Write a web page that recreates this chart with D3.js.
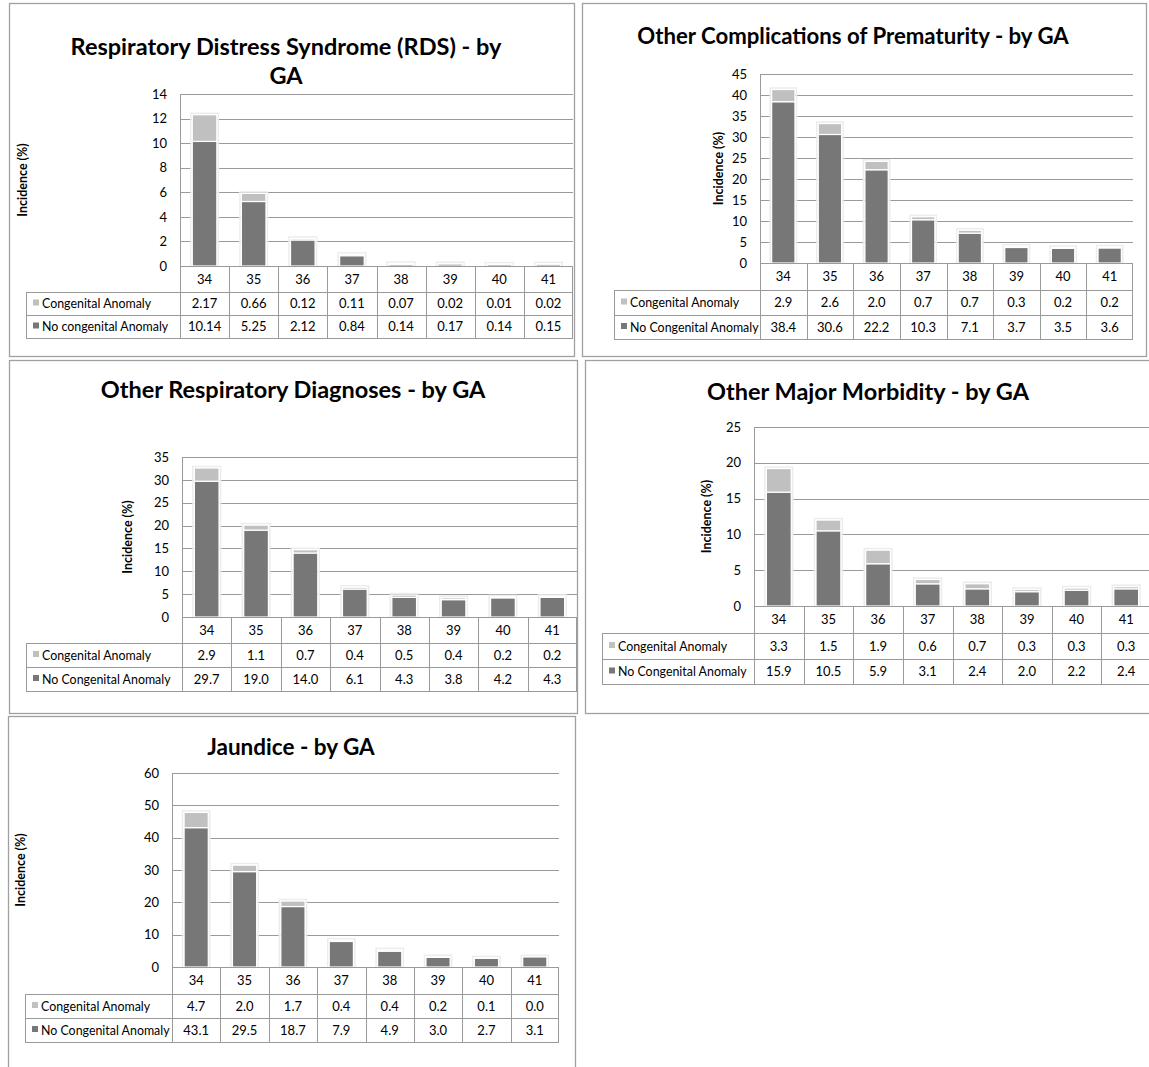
<!DOCTYPE html>
<html>
<head>
<meta charset="utf-8">
<script src="https://cdn.jsdelivr.net/npm/d3@7/dist/d3.min.js"></script>
<style>
  html, body { margin: 0; padding: 0; background: #fff; }
  svg { display: block; font-family: Lato, "Open Sans", sans-serif; }
</style>
</head>
<body>
<svg id="chart" width="1149" height="1067"></svg>
<script>
// Gestational age (weeks) shared by every panel
const gaWeeks = ["34", "35", "36", "37", "38", "39", "40", "41"];

// Series labels
const seriesCongenital = "Congenital Anomaly";
const seriesNoCongenital = "No Congenital Anomaly";
const seriesNoCongenitalLower = "No congenital Anomaly";

// Respiratory Distress Syndrome (RDS)
const rdsCongenital   = [2.17, 0.66, 0.12, 0.11, 0.07, 0.02, 0.01, 0.02];
const rdsNoCongenital = [10.14, 5.25, 2.12, 0.84, 0.14, 0.17, 0.14, 0.15];
const rdsTicks = [0, 2, 4, 6, 8, 10, 12, 14];

// Other complications of prematurity
const ocpCongenital   = [2.9, 2.6, 2.0, 0.7, 0.7, 0.3, 0.2, 0.2];
const ocpNoCongenital = [38.4, 30.6, 22.2, 10.3, 7.1, 3.7, 3.5, 3.6];
const ocpTicks = [0, 5, 10, 15, 20, 25, 30, 35, 40, 45];

// Other respiratory diagnoses
const ordCongenital   = [2.9, 1.1, 0.7, 0.4, 0.5, 0.4, 0.2, 0.2];
const ordNoCongenital = [29.7, 19.0, 14.0, 6.1, 4.3, 3.8, 4.2, 4.3];
const ordTicks = [0, 5, 10, 15, 20, 25, 30, 35];

// Other major morbidity
const ommCongenital   = [3.3, 1.5, 1.9, 0.6, 0.7, 0.3, 0.3, 0.3];
const ommNoCongenital = [15.9, 10.5, 5.9, 3.1, 2.4, 2.0, 2.2, 2.4];
const ommTicks = [0, 5, 10, 15, 20, 25];

// Jaundice
const jauCongenital   = [4.7, 2.0, 1.7, 0.4, 0.4, 0.2, 0.1, 0.0];
const jauNoCongenital = [43.1, 29.5, 18.7, 7.9, 4.9, 3.0, 2.7, 3.1];
const jauTicks = [0, 10, 20, 30, 40, 50, 60];

const COLOR_LIGHT = "#c0c0c0";
const COLOR_DARK = "#777777";
const LINE = "#9a9a9a";
const TABLE_FONT = 12.4;

const svg = d3.select("#chart");

// Panel definitions: frame box, title, plot box, table geometry
const panels = [
  {
    frame: [9, 3, 574, 356],
    title: ["Respiratory Distress Syndrome (RDS) - by", "GA"], titleX: 286, titleY: 55, titleGap: 29, titleSize: 23.5,
    plot: [180, 573, 94, 266], ticks: rdsTicks,
    rows: [292, 315, 338], tableLeft: 26, yTitleX: 22,
    cong: rdsCongenital, noCong: rdsNoCongenital, fmt: ".2f", noLabel: seriesNoCongenitalLower
  },
  {
    frame: [582, 3, 1146, 356],
    title: ["Other Complications of Prematurity - by GA"], titleX: 853, titleY: 44, titleSize: 22.2,
    plot: [760, 1133, 74, 263], ticks: ocpTicks,
    rows: [290, 315, 339], tableLeft: 614, yTitleX: 718,
    cong: ocpCongenital, noCong: ocpNoCongenital, fmt: ".1f", noLabel: seriesNoCongenital
  },
  {
    frame: [9, 360, 577, 713],
    title: ["Other Respiratory Diagnoses - by GA"], titleX: 293, titleY: 398, titleSize: 23.5,
    plot: [182, 577, 457, 617], ticks: ordTicks,
    rows: [643, 667, 691], tableLeft: 26, yTitleX: 127,
    cong: ordCongenital, noCong: ordNoCongenital, fmt: ".1f", noLabel: seriesNoCongenital
  },
  {
    frame: [585, 360, 1160, 713],
    title: ["Other Major Morbidity - by GA"], titleX: 868, titleY: 400, titleSize: 23.5,
    plot: [754, 1151, 427, 606], ticks: ommTicks,
    rows: [633, 659, 684], tableLeft: 602, yTitleX: 706,
    cong: ommCongenital, noCong: ommNoCongenital, fmt: ".1f", noLabel: seriesNoCongenital
  },
  {
    frame: [8, 716, 575, 1080],
    title: ["Jaundice - by GA"], titleX: 291, titleY: 755, titleSize: 22.5,
    plot: [172, 559, 773, 967], ticks: jauTicks,
    rows: [994, 1018, 1042], tableLeft: 25, yTitleX: 20,
    cong: jauCongenital, noCong: jauNoCongenital, fmt: ".1f", noLabel: seriesNoCongenital
  }
];

panels.forEach(drawPanel);

function drawPanel(p) {
  const g = svg.append("g");
  const [fx0, fy0, fx1, fy1] = p.frame;
  const [px0, px1, py0, py1] = p.plot;

  // Outer chart frame
  g.append("rect")
    .attr("x", fx0 + 0.5).attr("y", fy0 + 0.5)
    .attr("width", fx1 - fx0).attr("height", fy1 - fy0)
    .attr("fill", "none").attr("stroke", "#a0a0a0").attr("stroke-width", 1.3);

  // Title (one or two lines)
  const title = g.append("text")
    .attr("x", p.titleX).attr("y", p.titleY)
    .attr("text-anchor", "middle")
    .attr("font-size", p.titleSize).attr("font-weight", 700).attr("fill", "#000");
  p.title.forEach((line, i) => {
    title.append("tspan").attr("x", p.titleX).attr("dy", i === 0 ? 0 : p.titleGap).text(line);
  });

  const maxTick = d3.max(p.ticks);
  const y = d3.scaleLinear().domain([0, maxTick]).range([py1, py0]);
  const x = d3.scaleBand().domain(gaWeeks).range([px0, px1])
    .paddingInner(0.5).paddingOuter(0.25);
  const step = x.step();
  const colLeft = d => x(d) - step * 0.25;

  // Horizontal gridlines
  g.append("g").selectAll("line").data(p.ticks.filter(t => t > 0)).join("line")
    .attr("x1", px0).attr("x2", px1)
    .attr("y1", d => Math.round(y(d)) + 0.5).attr("y2", d => Math.round(y(d)) + 0.5)
    .attr("stroke", LINE).attr("stroke-width", 1);

  // Value axis labels
  const axis = g.append("g").attr("transform", `translate(${px0},0)`)
    .call(d3.axisLeft(y).tickValues(p.ticks).tickSize(0).tickPadding(13).tickFormat(d3.format("d")));
  axis.select(".domain").remove();
  axis.selectAll("text").attr("font-size", 13).attr("fill", "#000")
    .attr("font-family", "Lato, sans-serif");

  // Left axis line
  g.append("line")
    .attr("x1", px0 + 0.5).attr("x2", px0 + 0.5).attr("y1", py0).attr("y2", py1)
    .attr("stroke", LINE);

  // Axis title
  g.append("text")
    .attr("transform", `translate(${p.yTitleX + 4.5},${(py0 + py1) / 2}) rotate(-90)`)
    .attr("text-anchor", "middle")
    .attr("font-size", 12.5).attr("font-weight", 700).attr("fill", "#000")
    .text("Incidence (%)");

  // Stacked bars: no-anomaly at the base, anomaly on top
  const stackData = gaWeeks.map((w, i) => ({ week: w, noCong: p.noCong[i], cong: p.cong[i] }));
  const stack = d3.stack().keys(["noCong", "cong"])(stackData);
  const colors = { noCong: COLOR_DARK, cong: COLOR_LIGHT };

  // soft halo behind each bar stack
  g.append("g").selectAll("rect").data(stackData).join("rect")
    .attr("x", d => x(d.week) - 1.5)
    .attr("y", d => y(d.noCong + d.cong) - 1.5)
    .attr("width", x.bandwidth() + 3)
    .attr("height", d => y(0) - y(d.noCong + d.cong) + 1.5)
    .attr("fill", "none").attr("stroke", "#ececec").attr("stroke-width", 1.5);

  stack.forEach(layer => {
    g.append("g").selectAll("rect").data(layer).join("rect")
      .attr("x", d => x(d.data.week))
      .attr("y", d => y(d[1]))
      .attr("width", x.bandwidth())
      .attr("height", d => Math.max(0, y(d[0]) - y(d[1])))
      .attr("fill", colors[layer.key])
      .attr("stroke", "#fff").attr("stroke-width", 1.2);
  });

  // Data table
  const [r1, r2, r3] = p.rows;
  const t = g.append("g").attr("stroke", LINE).attr("stroke-width", 1).attr("fill", "none");
  // horizontal rules
  t.append("line").attr("x1", px0).attr("x2", px1).attr("y1", py1 + 0.5).attr("y2", py1 + 0.5);
  [r1, r2, r3].forEach(ry => {
    t.append("line").attr("x1", p.tableLeft).attr("x2", px1).attr("y1", ry + 0.5).attr("y2", ry + 0.5);
  });
  // vertical rules
  t.append("line").attr("x1", p.tableLeft + 0.5).attr("x2", p.tableLeft + 0.5).attr("y1", r1).attr("y2", r3);
  gaWeeks.forEach(w => {
    t.append("line").attr("x1", Math.round(colLeft(w)) + 0.5).attr("x2", Math.round(colLeft(w)) + 0.5)
      .attr("y1", py1).attr("y2", r3);
  });
  t.append("line").attr("x1", px1 - 0.5).attr("x2", px1 - 0.5).attr("y1", py1).attr("y2", r3);

  const cx = d => x(d) + x.bandwidth() / 2;
  const fmt = d3.format(p.fmt);

  // category row
  g.append("g").selectAll("text").data(gaWeeks).join("text")
    .attr("x", cx).attr("y", (py1 + r1) / 2 + 4.5)
    .attr("text-anchor", "middle").attr("font-size", 13).attr("fill", "#000")
    .text(d => d);

  // legend + value rows
  const rowDefs = [
    { label: seriesCongenital, vals: p.cong, color: COLOR_LIGHT, top: r1, bot: r2 },
    { label: p.noLabel, vals: p.noCong, color: COLOR_DARK, top: r2, bot: r3 }
  ];
  rowDefs.forEach(r => {
    const my = (r.top + r.bot) / 2;
    g.append("rect").attr("x", p.tableLeft + 7).attr("y", my - 4)
      .attr("width", 6).attr("height", 6).attr("fill", r.color);
    g.append("text").attr("x", p.tableLeft + 16).attr("y", my + 4.5)
      .attr("font-size", TABLE_FONT).attr("fill", "#000").text(r.label);
    g.append("g").selectAll("text").data(r.vals).join("text")
      .attr("x", (d, i) => cx(gaWeeks[i])).attr("y", my + 4.5)
      .attr("text-anchor", "middle").attr("font-size", 13).attr("fill", "#000")
      .text(d => fmt(d));
  });
}
</script>
</body>
</html>
